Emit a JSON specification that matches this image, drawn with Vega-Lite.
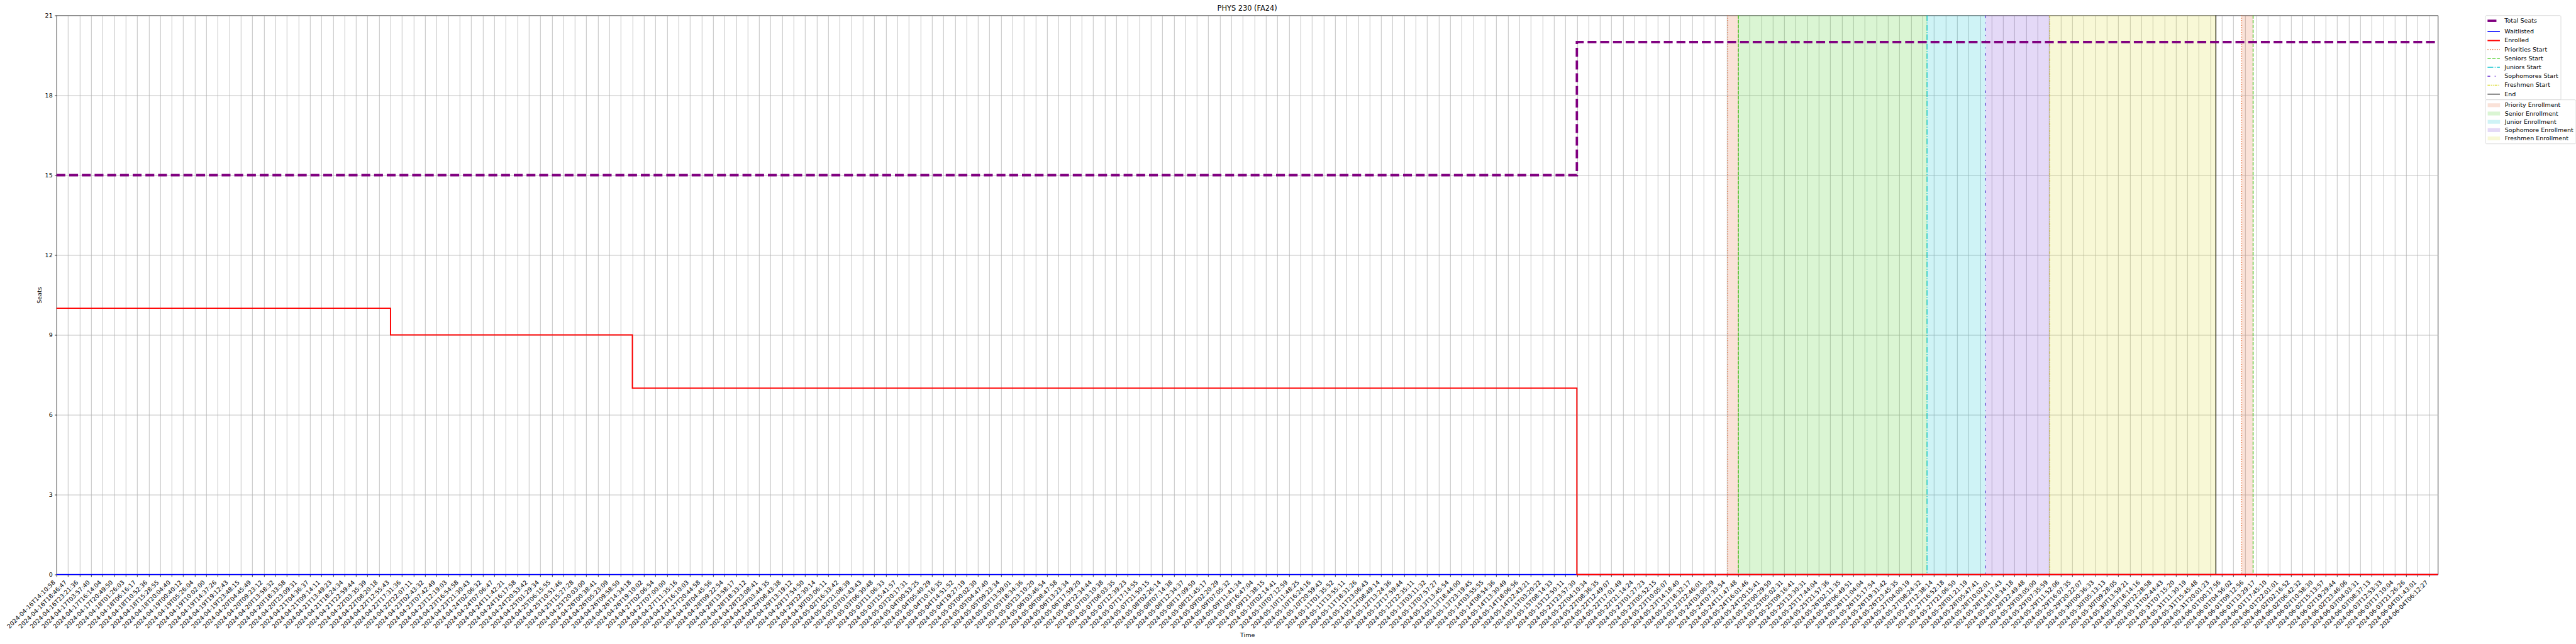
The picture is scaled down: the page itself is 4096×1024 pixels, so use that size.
{
"$schema": "https://vega.github.io/schema/vega-lite/v6.json",
"width": 3786.7,
"height": 889,
"autosize": {"type": "none"},
"padding": {"left": 89.8, "top": 24.5, "right": 219.5, "bottom": 110.5},
"background": "white",
"title": {"text": "PHYS 230 (FA24)", "fontSize": 11.4, "fontWeight": "normal", "font": "DejaVu Sans", "color": "black", "anchor": "middle", "frame": "group", "offset": 1, "dy": 10, "baseline": "alphabetic"},
"config": {
  "font": "DejaVu Sans",
  "view": {"stroke": "black", "strokeWidth": 0.76},
  "axis": {"labelFont": "DejaVu Sans", "labelFontSize": 9.5, "labelColor": "black", "titleFont": "DejaVu Sans", "titleFontSize": 9.5, "titleFontWeight": "normal", "titleColor": "black", "tickColor": "black", "tickWidth": 0.76, "tickSize": 3.3, "domain": false, "grid": true, "gridColor": "#b0b0b0", "gridWidth": 0.76},
  "legend": {"orient": "right", "offset": 75, "labelFont": "DejaVu Sans", "labelFontSize": 9.5, "labelColor": "black", "labelOffset": 17.2, "rowPadding": 3.2, "padding": 3.8, "strokeColor": "#cccccc", "strokeWidth": 0.7, "fillColor": "#ffffff", "cornerRadius": 1.9, "symbolSize": 100, "labelLimit": 300, "layout": {"right": {"anchor": "start", "direction": "vertical", "margin": 0}}}
},
"datasets": {
"samples": [
{"i":0,"time":"2024-04-16T14:10:58","enrolled":10,"waitlisted":0,"seats":15},
{"i":1,"time":"2024-04-16T18:46:47","enrolled":10,"waitlisted":0,"seats":15},
{"i":2,"time":"2024-04-16T23:21:36","enrolled":10,"waitlisted":0,"seats":15},
{"i":3,"time":"2024-04-17T03:57:40","enrolled":10,"waitlisted":0,"seats":15},
{"i":4,"time":"2024-04-17T16:14:04","enrolled":10,"waitlisted":0,"seats":15},
{"i":5,"time":"2024-04-17T20:49:50","enrolled":10,"waitlisted":0,"seats":15},
{"i":6,"time":"2024-04-18T01:26:03","enrolled":10,"waitlisted":0,"seats":15},
{"i":7,"time":"2024-04-18T06:16:17","enrolled":10,"waitlisted":0,"seats":15},
{"i":8,"time":"2024-04-18T10:52:36","enrolled":10,"waitlisted":0,"seats":15},
{"i":9,"time":"2024-04-18T15:28:55","enrolled":10,"waitlisted":0,"seats":15},
{"i":10,"time":"2024-04-18T20:04:40","enrolled":10,"waitlisted":0,"seats":15},
{"i":11,"time":"2024-04-19T00:40:12","enrolled":10,"waitlisted":0,"seats":15},
{"i":12,"time":"2024-04-19T05:26:04","enrolled":10,"waitlisted":0,"seats":15},
{"i":13,"time":"2024-04-19T10:02:00","enrolled":10,"waitlisted":0,"seats":15},
{"i":14,"time":"2024-04-19T14:37:26","enrolled":10,"waitlisted":0,"seats":15},
{"i":15,"time":"2024-04-19T19:12:43","enrolled":10,"waitlisted":0,"seats":15},
{"i":16,"time":"2024-04-19T23:48:15","enrolled":10,"waitlisted":0,"seats":15},
{"i":17,"time":"2024-04-20T04:45:49","enrolled":10,"waitlisted":0,"seats":15},
{"i":18,"time":"2024-04-20T09:23:12","enrolled":10,"waitlisted":0,"seats":15},
{"i":19,"time":"2024-04-20T13:58:32","enrolled":10,"waitlisted":0,"seats":15},
{"i":20,"time":"2024-04-20T18:33:58","enrolled":10,"waitlisted":0,"seats":15},
{"i":21,"time":"2024-04-20T23:09:31","enrolled":10,"waitlisted":0,"seats":15},
{"i":22,"time":"2024-04-21T04:36:37","enrolled":10,"waitlisted":0,"seats":15},
{"i":23,"time":"2024-04-21T09:14:11","enrolled":10,"waitlisted":0,"seats":15},
{"i":24,"time":"2024-04-21T13:49:23","enrolled":10,"waitlisted":0,"seats":15},
{"i":25,"time":"2024-04-21T18:24:34","enrolled":10,"waitlisted":0,"seats":15},
{"i":26,"time":"2024-04-21T22:59:44","enrolled":10,"waitlisted":0,"seats":15},
{"i":27,"time":"2024-04-22T03:35:39","enrolled":10,"waitlisted":0,"seats":15},
{"i":28,"time":"2024-04-22T08:20:18","enrolled":10,"waitlisted":0,"seats":15},
{"i":29,"time":"2024-04-22T12:55:43","enrolled":9,"waitlisted":0,"seats":15},
{"i":30,"time":"2024-04-22T17:31:36","enrolled":9,"waitlisted":0,"seats":15},
{"i":31,"time":"2024-04-22T22:07:11","enrolled":9,"waitlisted":0,"seats":15},
{"i":32,"time":"2024-04-23T02:43:32","enrolled":9,"waitlisted":0,"seats":15},
{"i":33,"time":"2024-04-23T07:42:49","enrolled":9,"waitlisted":0,"seats":15},
{"i":34,"time":"2024-04-23T12:19:03","enrolled":9,"waitlisted":0,"seats":15},
{"i":35,"time":"2024-04-23T16:54:58","enrolled":9,"waitlisted":0,"seats":15},
{"i":36,"time":"2024-04-23T21:30:43","enrolled":9,"waitlisted":0,"seats":15},
{"i":37,"time":"2024-04-24T02:06:32","enrolled":9,"waitlisted":0,"seats":15},
{"i":38,"time":"2024-04-24T07:06:47","enrolled":9,"waitlisted":0,"seats":15},
{"i":39,"time":"2024-04-24T11:42:21","enrolled":9,"waitlisted":0,"seats":15},
{"i":40,"time":"2024-04-24T16:17:58","enrolled":9,"waitlisted":0,"seats":15},
{"i":41,"time":"2024-04-24T20:53:42","enrolled":9,"waitlisted":0,"seats":15},
{"i":42,"time":"2024-04-25T01:29:34","enrolled":9,"waitlisted":0,"seats":15},
{"i":43,"time":"2024-04-25T06:15:55","enrolled":9,"waitlisted":0,"seats":15},
{"i":44,"time":"2024-04-25T10:51:46","enrolled":9,"waitlisted":0,"seats":15},
{"i":45,"time":"2024-04-25T15:27:28","enrolled":9,"waitlisted":0,"seats":15},
{"i":46,"time":"2024-04-25T20:03:00","enrolled":9,"waitlisted":0,"seats":15},
{"i":47,"time":"2024-04-26T00:38:41","enrolled":9,"waitlisted":0,"seats":15},
{"i":48,"time":"2024-04-26T05:23:09","enrolled":9,"waitlisted":0,"seats":15},
{"i":49,"time":"2024-04-26T09:58:50","enrolled":9,"waitlisted":0,"seats":15},
{"i":50,"time":"2024-04-26T14:34:18","enrolled":7,"waitlisted":0,"seats":15},
{"i":51,"time":"2024-04-26T19:10:02","enrolled":7,"waitlisted":0,"seats":15},
{"i":52,"time":"2024-04-27T02:06:54","enrolled":7,"waitlisted":0,"seats":15},
{"i":53,"time":"2024-04-27T07:00:00","enrolled":7,"waitlisted":0,"seats":15},
{"i":54,"time":"2024-04-27T11:35:16","enrolled":7,"waitlisted":0,"seats":15},
{"i":55,"time":"2024-04-27T16:10:03","enrolled":7,"waitlisted":0,"seats":15},
{"i":56,"time":"2024-04-27T20:44:58","enrolled":7,"waitlisted":0,"seats":15},
{"i":57,"time":"2024-04-28T04:45:56","enrolled":7,"waitlisted":0,"seats":15},
{"i":58,"time":"2024-04-28T09:22:54","enrolled":7,"waitlisted":0,"seats":15},
{"i":59,"time":"2024-04-28T13:58:17","enrolled":7,"waitlisted":0,"seats":15},
{"i":60,"time":"2024-04-28T18:33:12","enrolled":7,"waitlisted":0,"seats":15},
{"i":61,"time":"2024-04-28T23:08:41","enrolled":7,"waitlisted":0,"seats":15},
{"i":62,"time":"2024-04-29T03:44:35","enrolled":7,"waitlisted":0,"seats":15},
{"i":63,"time":"2024-04-29T08:43:38","enrolled":7,"waitlisted":0,"seats":15},
{"i":64,"time":"2024-04-29T13:19:12","enrolled":7,"waitlisted":0,"seats":15},
{"i":65,"time":"2024-04-29T17:54:50","enrolled":7,"waitlisted":0,"seats":15},
{"i":66,"time":"2024-04-29T22:30:14","enrolled":7,"waitlisted":0,"seats":15},
{"i":67,"time":"2024-04-30T03:06:11","enrolled":7,"waitlisted":0,"seats":15},
{"i":68,"time":"2024-05-02T16:33:42","enrolled":7,"waitlisted":0,"seats":15},
{"i":69,"time":"2024-05-02T21:08:39","enrolled":7,"waitlisted":0,"seats":15},
{"i":70,"time":"2024-05-03T01:43:43","enrolled":7,"waitlisted":0,"seats":15},
{"i":71,"time":"2024-05-03T06:30:48","enrolled":7,"waitlisted":0,"seats":15},
{"i":72,"time":"2024-05-03T11:06:33","enrolled":7,"waitlisted":0,"seats":15},
{"i":73,"time":"2024-05-03T15:41:57","enrolled":7,"waitlisted":0,"seats":15},
{"i":74,"time":"2024-05-03T20:17:31","enrolled":7,"waitlisted":0,"seats":15},
{"i":75,"time":"2024-05-04T00:53:25","enrolled":7,"waitlisted":0,"seats":15},
{"i":76,"time":"2024-05-04T05:40:29","enrolled":7,"waitlisted":0,"seats":15},
{"i":77,"time":"2024-05-04T10:16:35","enrolled":7,"waitlisted":0,"seats":15},
{"i":78,"time":"2024-05-04T14:51:52","enrolled":7,"waitlisted":0,"seats":15},
{"i":79,"time":"2024-05-04T19:27:19","enrolled":7,"waitlisted":0,"seats":15},
{"i":80,"time":"2024-05-05T00:02:30","enrolled":7,"waitlisted":0,"seats":15},
{"i":81,"time":"2024-05-05T04:47:40","enrolled":7,"waitlisted":0,"seats":15},
{"i":82,"time":"2024-05-05T09:23:34","enrolled":7,"waitlisted":0,"seats":15},
{"i":83,"time":"2024-05-05T13:59:01","enrolled":7,"waitlisted":0,"seats":15},
{"i":84,"time":"2024-05-05T18:34:36","enrolled":7,"waitlisted":0,"seats":15},
{"i":85,"time":"2024-05-05T23:10:20","enrolled":7,"waitlisted":0,"seats":15},
{"i":86,"time":"2024-05-06T03:46:54","enrolled":7,"waitlisted":0,"seats":15},
{"i":87,"time":"2024-05-06T08:47:58","enrolled":7,"waitlisted":0,"seats":15},
{"i":88,"time":"2024-05-06T13:23:34","enrolled":7,"waitlisted":0,"seats":15},
{"i":89,"time":"2024-05-06T17:59:20","enrolled":7,"waitlisted":0,"seats":15},
{"i":90,"time":"2024-05-06T22:34:44","enrolled":7,"waitlisted":0,"seats":15},
{"i":91,"time":"2024-05-07T03:10:38","enrolled":7,"waitlisted":0,"seats":15},
{"i":92,"time":"2024-05-07T08:03:35","enrolled":7,"waitlisted":0,"seats":15},
{"i":93,"time":"2024-05-07T12:39:23","enrolled":7,"waitlisted":0,"seats":15},
{"i":94,"time":"2024-05-07T17:14:55","enrolled":7,"waitlisted":0,"seats":15},
{"i":95,"time":"2024-05-07T21:50:15","enrolled":7,"waitlisted":0,"seats":15},
{"i":96,"time":"2024-05-08T02:26:14","enrolled":7,"waitlisted":0,"seats":15},
{"i":97,"time":"2024-05-08T07:14:38","enrolled":7,"waitlisted":0,"seats":15},
{"i":98,"time":"2024-05-08T12:34:37","enrolled":7,"waitlisted":0,"seats":15},
{"i":99,"time":"2024-05-08T17:09:50","enrolled":7,"waitlisted":0,"seats":15},
{"i":100,"time":"2024-05-08T21:45:17","enrolled":7,"waitlisted":0,"seats":15},
{"i":101,"time":"2024-05-09T02:20:29","enrolled":7,"waitlisted":0,"seats":15},
{"i":102,"time":"2024-05-09T07:05:32","enrolled":7,"waitlisted":0,"seats":15},
{"i":103,"time":"2024-05-09T11:41:34","enrolled":7,"waitlisted":0,"seats":15},
{"i":104,"time":"2024-05-09T16:47:04","enrolled":7,"waitlisted":0,"seats":15},
{"i":105,"time":"2024-05-09T21:38:15","enrolled":7,"waitlisted":0,"seats":15},
{"i":106,"time":"2024-05-10T02:14:41","enrolled":7,"waitlisted":0,"seats":15},
{"i":107,"time":"2024-05-10T07:12:59","enrolled":7,"waitlisted":0,"seats":15},
{"i":108,"time":"2024-05-10T11:48:25","enrolled":7,"waitlisted":0,"seats":15},
{"i":109,"time":"2024-05-10T16:24:16","enrolled":7,"waitlisted":0,"seats":15},
{"i":110,"time":"2024-05-10T20:59:43","enrolled":7,"waitlisted":0,"seats":15},
{"i":111,"time":"2024-05-11T01:35:52","enrolled":7,"waitlisted":0,"seats":15},
{"i":112,"time":"2024-05-11T13:55:11","enrolled":7,"waitlisted":0,"seats":15},
{"i":113,"time":"2024-05-11T18:31:26","enrolled":7,"waitlisted":0,"seats":15},
{"i":114,"time":"2024-05-11T23:06:43","enrolled":7,"waitlisted":0,"seats":15},
{"i":115,"time":"2024-05-12T08:49:14","enrolled":7,"waitlisted":0,"seats":15},
{"i":116,"time":"2024-05-12T13:24:36","enrolled":7,"waitlisted":0,"seats":15},
{"i":117,"time":"2024-05-12T17:59:44","enrolled":7,"waitlisted":0,"seats":15},
{"i":118,"time":"2024-05-12T22:35:11","enrolled":7,"waitlisted":0,"seats":15},
{"i":119,"time":"2024-05-13T03:11:32","enrolled":7,"waitlisted":0,"seats":15},
{"i":120,"time":"2024-05-13T07:57:27","enrolled":7,"waitlisted":0,"seats":15},
{"i":121,"time":"2024-05-13T13:45:54","enrolled":7,"waitlisted":0,"seats":15},
{"i":122,"time":"2024-05-13T18:44:00","enrolled":7,"waitlisted":0,"seats":15},
{"i":123,"time":"2024-05-13T23:19:45","enrolled":7,"waitlisted":0,"seats":15},
{"i":124,"time":"2024-05-14T03:55:55","enrolled":7,"waitlisted":0,"seats":15},
{"i":125,"time":"2024-05-14T08:54:36","enrolled":7,"waitlisted":0,"seats":15},
{"i":126,"time":"2024-05-14T13:30:49","enrolled":7,"waitlisted":0,"seats":15},
{"i":127,"time":"2024-05-14T18:06:56","enrolled":7,"waitlisted":0,"seats":15},
{"i":128,"time":"2024-05-14T22:43:21","enrolled":7,"waitlisted":0,"seats":15},
{"i":129,"time":"2024-05-15T03:20:22","enrolled":7,"waitlisted":0,"seats":15},
{"i":130,"time":"2024-05-15T08:14:33","enrolled":7,"waitlisted":0,"seats":15},
{"i":131,"time":"2024-05-15T12:50:11","enrolled":7,"waitlisted":0,"seats":15},
{"i":132,"time":"2024-05-21T23:57:30","enrolled":0,"waitlisted":0,"seats":20},
{"i":133,"time":"2024-05-22T04:10:34","enrolled":0,"waitlisted":0,"seats":20},
{"i":134,"time":"2024-05-22T08:36:35","enrolled":0,"waitlisted":0,"seats":20},
{"i":135,"time":"2024-05-22T12:49:07","enrolled":0,"waitlisted":0,"seats":20},
{"i":136,"time":"2024-05-22T17:01:49","enrolled":0,"waitlisted":0,"seats":20},
{"i":137,"time":"2024-05-22T21:14:24","enrolled":0,"waitlisted":0,"seats":20},
{"i":138,"time":"2024-05-23T01:27:23","enrolled":0,"waitlisted":0,"seats":20},
{"i":139,"time":"2024-05-23T05:52:15","enrolled":0,"waitlisted":0,"seats":20},
{"i":140,"time":"2024-05-23T10:05:07","enrolled":0,"waitlisted":0,"seats":20},
{"i":141,"time":"2024-05-23T14:18:40","enrolled":0,"waitlisted":0,"seats":20},
{"i":142,"time":"2024-05-23T18:32:17","enrolled":0,"waitlisted":0,"seats":20},
{"i":143,"time":"2024-05-23T22:46:01","enrolled":0,"waitlisted":0,"seats":20},
{"i":144,"time":"2024-05-24T03:00:29","enrolled":0,"waitlisted":0,"seats":20},
{"i":145,"time":"2024-05-24T07:33:54","enrolled":0,"waitlisted":0,"seats":20},
{"i":146,"time":"2024-05-24T11:47:48","enrolled":0,"waitlisted":0,"seats":20},
{"i":147,"time":"2024-05-24T16:01:46","enrolled":0,"waitlisted":0,"seats":20},
{"i":148,"time":"2024-05-24T20:15:41","enrolled":0,"waitlisted":0,"seats":20},
{"i":149,"time":"2024-05-25T00:29:50","enrolled":0,"waitlisted":0,"seats":20},
{"i":150,"time":"2024-05-25T05:02:31","enrolled":0,"waitlisted":0,"seats":20},
{"i":151,"time":"2024-05-25T09:16:41","enrolled":0,"waitlisted":0,"seats":20},
{"i":152,"time":"2024-05-25T13:30:31","enrolled":0,"waitlisted":0,"seats":20},
{"i":153,"time":"2024-05-25T17:44:04","enrolled":0,"waitlisted":0,"seats":20},
{"i":154,"time":"2024-05-25T21:57:36","enrolled":0,"waitlisted":0,"seats":20},
{"i":155,"time":"2024-05-26T02:11:35","enrolled":0,"waitlisted":0,"seats":20},
{"i":156,"time":"2024-05-26T06:49:51","enrolled":0,"waitlisted":0,"seats":20},
{"i":157,"time":"2024-05-26T11:04:04","enrolled":0,"waitlisted":0,"seats":20},
{"i":158,"time":"2024-05-26T15:17:54","enrolled":0,"waitlisted":0,"seats":20},
{"i":159,"time":"2024-05-26T19:31:42","enrolled":0,"waitlisted":0,"seats":20},
{"i":160,"time":"2024-05-26T23:45:35","enrolled":0,"waitlisted":0,"seats":20},
{"i":161,"time":"2024-05-27T04:00:19","enrolled":0,"waitlisted":0,"seats":20},
{"i":162,"time":"2024-05-27T08:24:32","enrolled":0,"waitlisted":0,"seats":20},
{"i":163,"time":"2024-05-27T12:38:14","enrolled":0,"waitlisted":0,"seats":20},
{"i":164,"time":"2024-05-27T16:52:18","enrolled":0,"waitlisted":0,"seats":20},
{"i":165,"time":"2024-05-27T21:06:50","enrolled":0,"waitlisted":0,"seats":20},
{"i":166,"time":"2024-05-28T01:21:19","enrolled":0,"waitlisted":0,"seats":20},
{"i":167,"time":"2024-05-28T05:47:41","enrolled":0,"waitlisted":0,"seats":20},
{"i":168,"time":"2024-05-28T10:02:01","enrolled":0,"waitlisted":0,"seats":20},
{"i":169,"time":"2024-05-28T14:17:43","enrolled":0,"waitlisted":0,"seats":20},
{"i":170,"time":"2024-05-28T18:34:18","enrolled":0,"waitlisted":0,"seats":20},
{"i":171,"time":"2024-05-28T22:49:48","enrolled":0,"waitlisted":0,"seats":20},
{"i":172,"time":"2024-05-29T03:05:00","enrolled":0,"waitlisted":0,"seats":20},
{"i":173,"time":"2024-05-29T07:35:59","enrolled":0,"waitlisted":0,"seats":20},
{"i":174,"time":"2024-05-29T11:52:06","enrolled":0,"waitlisted":0,"seats":20},
{"i":175,"time":"2024-05-29T16:07:35","enrolled":0,"waitlisted":0,"seats":20},
{"i":176,"time":"2024-05-29T20:22:07","enrolled":0,"waitlisted":0,"seats":20},
{"i":177,"time":"2024-05-30T00:36:33","enrolled":0,"waitlisted":0,"seats":20},
{"i":178,"time":"2024-05-30T05:13:13","enrolled":0,"waitlisted":0,"seats":20},
{"i":179,"time":"2024-05-30T09:28:05","enrolled":0,"waitlisted":0,"seats":20},
{"i":180,"time":"2024-05-30T13:59:21","enrolled":0,"waitlisted":0,"seats":20},
{"i":181,"time":"2024-05-30T18:14:16","enrolled":0,"waitlisted":0,"seats":20},
{"i":182,"time":"2024-05-30T22:28:58","enrolled":0,"waitlisted":0,"seats":20},
{"i":183,"time":"2024-05-31T02:44:43","enrolled":0,"waitlisted":0,"seats":20},
{"i":184,"time":"2024-05-31T07:15:20","enrolled":0,"waitlisted":0,"seats":20},
{"i":185,"time":"2024-05-31T11:30:19","enrolled":0,"waitlisted":0,"seats":20},
{"i":186,"time":"2024-05-31T15:45:48","enrolled":0,"waitlisted":0,"seats":20},
{"i":187,"time":"2024-05-31T20:01:23","enrolled":0,"waitlisted":0,"seats":20},
{"i":188,"time":"2024-06-01T00:17:56","enrolled":0,"waitlisted":0,"seats":20},
{"i":189,"time":"2024-06-01T04:56:02","enrolled":0,"waitlisted":0,"seats":20},
{"i":190,"time":"2024-06-01T09:12:56","enrolled":0,"waitlisted":0,"seats":20},
{"i":191,"time":"2024-06-01T13:29:17","enrolled":0,"waitlisted":0,"seats":20},
{"i":192,"time":"2024-06-01T17:45:10","enrolled":0,"waitlisted":0,"seats":20},
{"i":193,"time":"2024-06-01T22:01:01","enrolled":0,"waitlisted":0,"seats":20},
{"i":194,"time":"2024-06-02T02:16:52","enrolled":0,"waitlisted":0,"seats":20},
{"i":195,"time":"2024-06-02T06:42:32","enrolled":0,"waitlisted":0,"seats":20},
{"i":196,"time":"2024-06-02T10:58:30","enrolled":0,"waitlisted":0,"seats":20},
{"i":197,"time":"2024-06-02T15:13:57","enrolled":0,"waitlisted":0,"seats":20},
{"i":198,"time":"2024-06-02T19:29:44","enrolled":0,"waitlisted":0,"seats":20},
{"i":199,"time":"2024-06-02T23:46:06","enrolled":0,"waitlisted":0,"seats":20},
{"i":200,"time":"2024-06-03T04:03:31","enrolled":0,"waitlisted":0,"seats":20},
{"i":201,"time":"2024-06-03T08:37:13","enrolled":0,"waitlisted":0,"seats":20},
{"i":202,"time":"2024-06-03T12:53:33","enrolled":0,"waitlisted":0,"seats":20},
{"i":203,"time":"2024-06-03T17:10:04","enrolled":0,"waitlisted":0,"seats":20},
{"i":204,"time":"2024-06-03T21:26:26","enrolled":0,"waitlisted":0,"seats":20},
{"i":205,"time":"2024-06-04T01:43:01","enrolled":0,"waitlisted":0,"seats":20},
{"i":206,"time":"2024-06-04T06:12:27","enrolled":0,"waitlisted":0,"seats":20},
{"i":206.76,"time":null,"enrolled":0,"waitlisted":0,"seats":20}
],
"phases": [
{"phase":"Priority Enrollment","start":145.10,"end":146.02},
{"phase":"Senior Enrollment","start":146.02,"end":162.40},
{"phase":"Junior Enrollment","start":162.40,"end":167.49},
{"phase":"Sophomore Enrollment","start":167.49,"end":173.06},
{"phase":"Freshmen Enrollment","start":173.06,"end":187.48},
{"phase":"Priority Enrollment","start":189.72,"end":190.71}
],
"events": [
{"event":"Priorities Start","pos":145.10},
{"event":"Seniors Start","pos":146.02},
{"event":"Juniors Start","pos":162.40},
{"event":"Sophomores Start","pos":167.49},
{"event":"Freshmen Start","pos":173.06},
{"event":"End","pos":187.48},
{"event":"Priorities Start","pos":189.72},
{"event":"Seniors Start","pos":190.71}
]
},
"layer": [
{
  "data": {"name": "samples"},
  "transform": [{"filter": "datum.time != null"}],
  "mark": {"type": "rule", "opacity": 0},
  "encoding": {
    "x": {"field": "time", "type": "ordinal", "sort": null,
      "scale": {"type": "point", "padding": 0.38, "align": 0},
      "axis": {"title": "Time", "labelAngle": -45, "labelAlign": "right", "labelBaseline": "middle", "labelPadding": 7.2, "labelOffset": -3.9, "labelOverlap": false, "titlePadding": 3.8}}
  }
},
{
  "layer": [
  {
    "data": {"name": "events"},
    "mark": {"type": "rule", "strokeWidth": 1.42},
    "encoding": {
      "x": {"field": "pos", "type": "quantitative", "scale": {"domain": [0, 206.76], "nice": false, "zero": false}, "axis": null},
      "color": {"field": "event", "type": "nominal",
        "scale": {"domain": ["Total Seats","Waitlisted","Enrolled","Priorities Start","Seniors Start","Juniors Start","Sophomores Start","Freshmen Start","End"],
                  "range": ["#800080","#0000ff","#ff0000","#E8703A","#44CC22","#11C5D0","#7742D6","#DADA30","#000000"]},
        "legend": {"title": null, "symbolType": "M-1,0H2.92", "symbolStrokeWidth": {"expr": "datum.value === 'Total Seats' ? 3.79 : (datum.value === 'Enrolled' ? 1.9 : 1.42)"}, "symbolSize": 100}},
      "strokeDash": {"field": "event", "type": "nominal",
        "scale": {"domain": ["Total Seats","Waitlisted","Enrolled","Priorities Start","Seniors Start","Juniors Start","Sophomores Start","Freshmen Start","End"],
                  "range": [[14.1,6.1],[1,0],[1,0],[1.42,2.35],[5.26,2.27],[9.1,2.27,1.42,2.27],[4.26,7.1,1.42,7.1],[4.26,1.42,1.42,1.42,1.42,1.42],[1,0]]},
        "legend": {"title": null, "symbolType": "M-1,0H2.92", "symbolStrokeWidth": {"expr": "datum.value === 'Total Seats' ? 3.79 : (datum.value === 'Enrolled' ? 1.9 : 1.42)"}, "symbolSize": 100}}
    }
  },
  {
    "data": {"name": "phases"},
    "mark": {"type": "rect", "fillOpacity": 0.2},
    "encoding": {
      "x": {"field": "start", "type": "quantitative", "scale": {"domain": [0, 206.76], "nice": false, "zero": false}, "axis": null},
      "x2": {"field": "end"},
      "fill": {"field": "phase", "type": "nominal",
        "scale": {"domain": ["Priority Enrollment","Senior Enrollment","Junior Enrollment","Sophomore Enrollment","Freshmen Enrollment"],
                  "range": ["#E8703A","#44CC22","#11C5D0","#7742D6","#DADA30"]},
        "legend": {"title": null, "symbolType": "M-1,-0.61H2.92V0.61H-1Z", "symbolOpacity": 0.2, "symbolSize": 100, "symbolStrokeWidth": 0}}
    }
  },
  {
    "data": {"name": "samples"},
    "mark": {"type": "line", "interpolate": "step-after", "strokeWidth": 1.42},
    "encoding": {
      "x": {"field": "i", "type": "quantitative", "scale": {"domain": [0, 206.76], "nice": false, "zero": false}, "axis": null},
      "y": {"field": "waitlisted", "type": "quantitative", "scale": {"domain": [0, 21], "nice": false, "zero": true},
        "axis": {"title": "Seats", "values": [0,3,6,9,12,15,18,21], "labelPadding": 3.3, "titlePadding": 3.8}},
      "color": {"datum": "Waitlisted", "type": "nominal"},
      "strokeDash": {"datum": "Waitlisted", "type": "nominal"}
    }
  },
  {
    "data": {"name": "samples"},
    "mark": {"type": "line", "interpolate": "step-after", "strokeWidth": 1.9},
    "encoding": {
      "x": {"field": "i", "type": "quantitative", "axis": null},
      "y": {"field": "enrolled", "type": "quantitative"},
      "color": {"datum": "Enrolled", "type": "nominal"},
      "strokeDash": {"datum": "Enrolled", "type": "nominal"}
    }
  },
  {
    "data": {"name": "samples"},
    "mark": {"type": "line", "interpolate": "step-after", "strokeWidth": 3.79},
    "encoding": {
      "x": {"field": "i", "type": "quantitative", "axis": null},
      "y": {"field": "seats", "type": "quantitative"},
      "color": {"datum": "Total Seats", "type": "nominal"},
      "strokeDash": {"datum": "Total Seats", "type": "nominal"}
    }
  }
  ]
}
],
"resolve": {"scale": {"x": "independent"}, "axis": {"x": "independent"}}
}
